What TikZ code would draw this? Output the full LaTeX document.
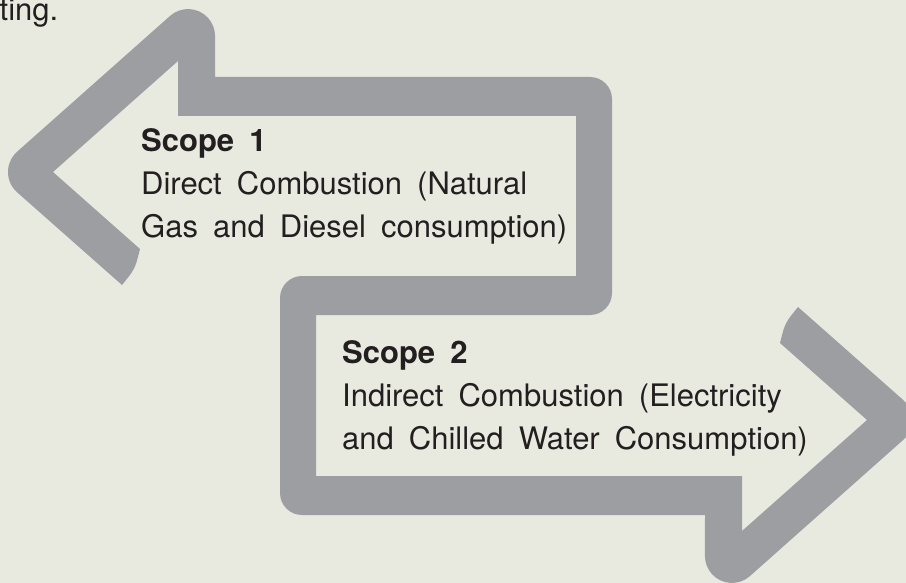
\documentclass[tikz,border=0pt]{standalone}
\usepackage{fontspec}
\setmainfont{TeX Gyre Heros}[WordSpace=1.75]
\usepackage{tikz}
\usetikzlibrary{positioning,calc}
\definecolor{bggreen}{RGB}{232,234,224}
\definecolor{bandgray}{RGB}{157,158,161}
\definecolor{inkgray}{RGB}{35,31,32}
\tikzset{
  band/.style={fill=bandgray},
  scopetext/.style={anchor=base west,inner sep=0pt,text=inkgray,font=\fontsize{31}{42.5}\selectfont},
  scopehead/.style={scopetext,font=\fontsize{31}{42.5}\selectfont\bfseries}
}
\begin{document}
\begin{tikzpicture}[x=1pt,y=-1pt]

	\useasboundingbox (0,0) rectangle (906,583);
	\fill[bggreen] (0,0) rectangle (906,583);

	% S shaped band with both chevrons
	\fill[band] (17.0,151.8) -- (170.1,15.9)
		arc[start angle=-131.7, end angle=0, radius=27]
		-- (215,77) -- (590,77)
		arc[start angle=-90, end angle=0, radius=22]
		-- (612,293)
		arc[start angle=0, end angle=90, radius=22]
		-- (316,315) -- (316,476) -- (742,476) -- (742,531)
		-- (867,420) -- (780,343)
		.. controls (785,323) .. (798,307)
		-- (903,399.8)
		arc[start angle=-48.3, end angle=48.3, radius=27]
		-- (749.9,576.1)
		arc[start angle=48.3, end angle=180, radius=27]
		-- (705,515) -- (302,515)
		arc[start angle=90, end angle=180, radius=22]
		-- (280,298)
		arc[start angle=180, end angle=270, radius=22]
		-- (576,276) -- (576,116) -- (178,116) -- (178,61)
		-- (53,172) -- (140,249)
		.. controls (135,269) .. (122,285)
		-- (17.0,192.2)
		arc[start angle=131.7, end angle=228.3, radius=27]
		-- cycle;

	\node[scopetext] (prev) at (-0.5,21) {ting.};

	\node[scopehead] (s1head) at (141,152) {Scope 1};
	\node[scopetext] (s1a) at (141,195) {Direct Combustion (Natural};
	\node[scopetext] (s1b) at (141,237) {Gas and Diesel consumption)};

	\node[scopehead] (s2head) at (342,363) {Scope 2};
	\node[scopetext] (s2a) at (342,406.5) {Indirect Combustion (Electricity};
	\node[scopetext] (s2b) at (342,449) {and Chilled Water Consumption)};

\end{tikzpicture}
\end{document}
